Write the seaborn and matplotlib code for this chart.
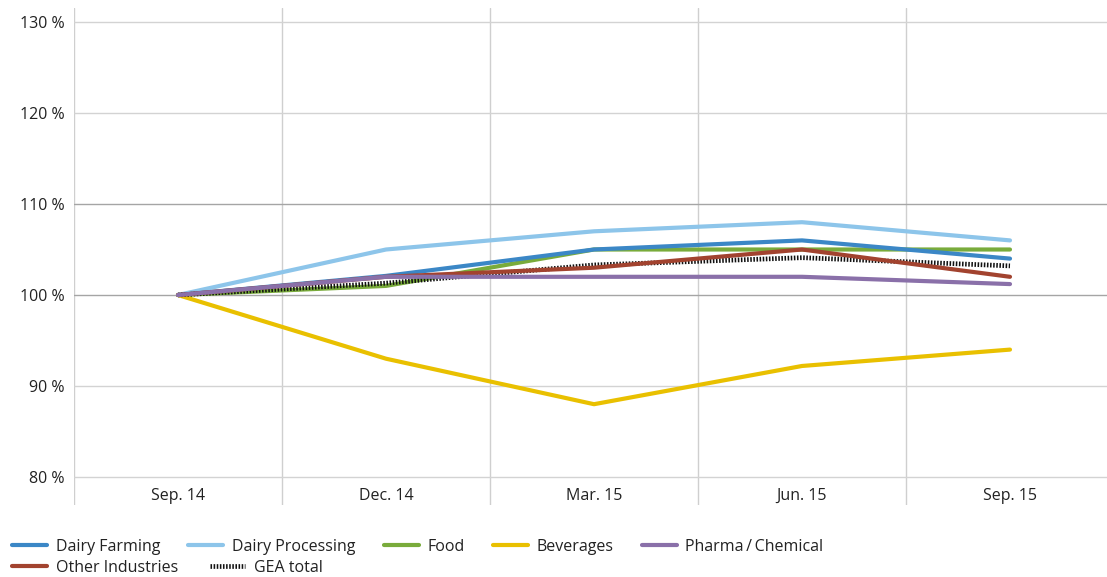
import matplotlib
matplotlib.use("Agg")
import matplotlib.pyplot as plt
import seaborn as sns
import pandas as pd

categories = ["Sep. 14", "Dec. 14", "Mar. 15", "Jun. 15", "Sep. 15"]
dairy_farming = [100, 102.1, 105.0, 106.0, 104.0]
dairy_processing = [100, 105.0, 107.0, 108.0, 106.0]
food = [100, 101.0, 105.0, 105.0, 105.0]
beverages = [100, 93.0, 88.0, 92.2, 94.0]
pharma_chemical = [100, 102.0, 102.0, 102.0, 101.2]
other_industries = [100, 102.0, 103.0, 105.0, 102.0]
gea_total = [100, 101.3, 103.3, 104.1, 103.2]
y_ticks = [80, 90, 100, 110, 120, 130]
y_tick_labels = ["80 %", "90 %", "100 %", "110 %", "120 %", "130 %"]

series = {
    "Dairy Farming": dairy_farming,
    "Dairy Processing": dairy_processing,
    "Food": food,
    "Beverages": beverages,
    "Pharma\u2009/\u2009Chemical": pharma_chemical,
    "Other Industries": other_industries,
    "GEA total": gea_total,
}
colors = {
    "Dairy Farming": "#3b87c6",
    "Dairy Processing": "#8dc5ea",
    "Food": "#79ab3b",
    "Beverages": "#e9c000",
    "Pharma\u2009/\u2009Chemical": "#8a70a9",
    "Other Industries": "#a2432f",
    "GEA total": "#111111",
}
draw_order = ["Dairy Processing", "Food", "Dairy Farming", "Beverages",
              "GEA total", "Other Industries", "Pharma\u2009/\u2009Chemical"]

sns.set_theme(style="white")
plt.rcParams["font.family"] = ["Open Sans", "DejaVu Sans"]

W, H = 1107, 577
fig = plt.figure(figsize=(W / 100, H / 100), dpi=100)
ax = fig.add_axes([74 / W, 1 - 505 / H, 1 - 74 / W, (505 - 8) / H])

lines = {}
for i, name in enumerate(draw_order):
    df = pd.DataFrame({"x": categories, "y": series[name]})
    sns.lineplot(data=df, x="x", y="y", ax=ax, color=colors[name], lw=3.0,
                 sort=False, zorder=3 + i, label=name, legend=False)
    ln = ax.lines[-1]
    if name == "GEA total":
        ln.set_linewidth(3.4)
        ln.set_dashes((0.33, 0.33))
        ln.set_dash_capstyle("butt")
    else:
        ln.set_solid_capstyle("round")
        ln.set_solid_joinstyle("round")
    lines[name] = ln

ax.set_xticks(range(len(categories)))
ax.set_xticklabels(categories)
ax.set_xticks([k - 0.5 for k in range(len(categories) + 1)], minor=True)
ax.set_yticks(y_ticks)
ax.set_yticklabels(y_tick_labels)
ax.set_xlabel("")
ax.set_ylabel("")

px_per_unit = (477 - 22) / 50.0
ax.set_ylim(80 - (505 - 477) / px_per_unit, 130 + (22 - 8) / px_per_unit)
ax.set_xlim(-0.5, -0.5 + (W - 74) / 208.0)

for s in ax.spines.values():
    s.set_visible(False)

ax.grid(False)
ax.xaxis.grid(True, which="minor", color="#cfcfcf", lw=1.0)
ax.yaxis.grid(True, which="major", color="#d3d3d3", lw=1.0)
for gl, v in zip(ax.get_ygridlines(), y_ticks):
    if v in (100, 110):
        gl.set_color("#a5a5a5")
ax.set_axisbelow(True)

ax.tick_params(axis="x", which="both", length=0, pad=-12.5, labelsize=11.5,
               labelcolor="#222222")
ax.tick_params(axis="y", which="both", length=0, pad=7, labelsize=11.5,
               labelcolor="#222222")

row1 = ["Dairy Farming", "Dairy Processing", "Food", "Beverages",
        "Pharma\u2009/\u2009Chemical"]
row2 = ["Other Industries", "GEA total"]
common = dict(frameon=False, loc="center left", borderaxespad=0, borderpad=0,
              handlelength=2.2, handletextpad=0.55, fontsize=11.5,
              labelcolor="#222222")
leg1 = fig.legend([lines[n] for n in row1], row1, ncol=5,
                  bbox_to_anchor=(12 / W, 1 - 547 / H), columnspacing=1.75, **common)
leg2 = fig.legend([lines[n] for n in row2], row2, ncol=2,
                  bbox_to_anchor=(12 / W, 1 - 568 / H), columnspacing=2.0, **common)

fig.savefig("out.png", dpi=100)
